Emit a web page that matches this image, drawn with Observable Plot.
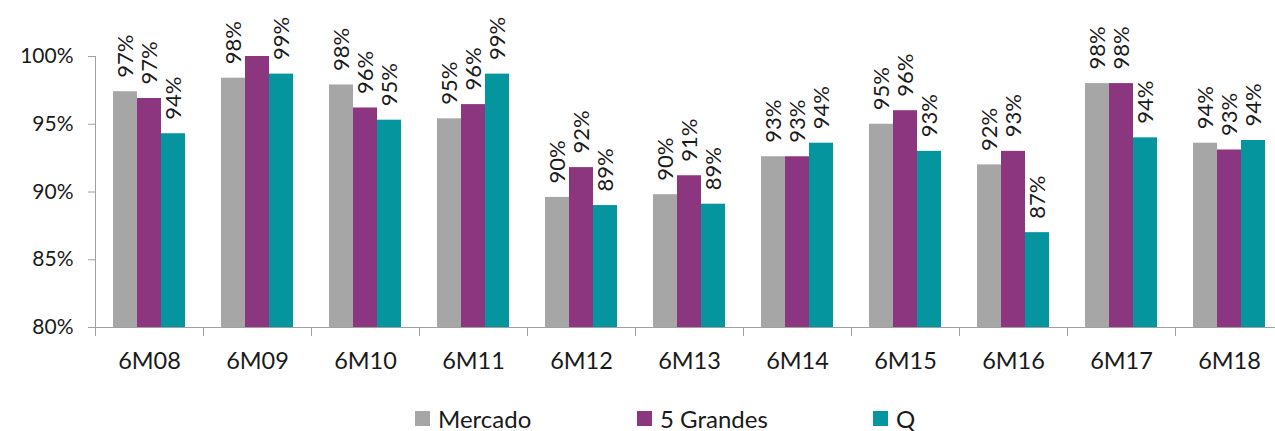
<!DOCTYPE html>
<html>
<head>
<meta charset="utf-8">
<script src="https://cdn.jsdelivr.net/npm/d3@7"></script>
<script src="https://cdn.jsdelivr.net/npm/@observablehq/plot@0.6"></script>
<style>
  html, body { margin: 0; padding: 0; background: #fff; overflow: hidden; }
  body { position: relative; width: 1275px; height: 431px; font-family: Lato, "Open Sans", sans-serif; }
  #chart svg { overflow: hidden; }
  #legend { position: absolute; left: 0; top: 406px; width: 1275px; height: 25px; font-size: 24px; line-height: 25px; color: #1a1a1a; }
  .item { display: flex; align-items: center; position: absolute; top: 0; height: 25px; white-space: nowrap; }
  .sw { width: 15px; height: 15px; margin-right: 8px; }
</style>
</head>
<body>
<div id="chart"></div>
<div id="legend"></div>
<script>
const categories = ["6M08","6M09","6M10","6M11","6M12","6M13","6M14","6M15","6M16","6M17","6M18"];
const seriesNames = ["Mercado", "5 Grandes", "Q"];
const seriesColors = ["#A6A6A6", "#8B367F", "#05959E"];
const mercado   = [97.4, 98.4, 97.9, 95.4, 89.6, 89.8, 92.6, 95.0, 92.0, 98.0, 93.6];
const grandes5  = [96.9, 100.0, 96.2, 96.45, 91.8, 91.2, 92.6, 96.0, 93.0, 98.0, 93.1];
const q         = [94.3, 98.7, 95.3, 98.7, 89.0, 89.1, 93.6, 93.0, 87.0, 94.0, 93.8];
const yTicks = [80, 85, 90, 95, 100];
const baseline = 80;
const legendLefts = [415, 637, 873];

const seriesValues = [mercado, grandes5, q];
const data = [];
categories.forEach((c, i) => {
  seriesNames.forEach((s, j) => data.push({cat: c, series: s, value: seriesValues[j][i]}));
});

const W = 1275, H = 403, mT = 56, mB = 76;
const axisColor = "#A0A0A0";

const chart = Plot.plot({
  width: W,
  height: H,
  marginLeft: 91,
  marginRight: -12,
  marginTop: mT,
  marginBottom: mB,
  style: {fontFamily: "Lato, 'Open Sans', sans-serif", fontSize: "21px", color: "#1a1a1a", background: "#fff"},
  fx: {domain: categories, paddingInner: 0, paddingOuter: 0, label: null},
  x: {domain: seriesNames, paddingInner: 0, paddingOuter: 0.725, axis: null},
  y: {domain: [baseline, 100], label: null},
  color: {domain: seriesNames, range: seriesColors},
  marks: [
    Plot.barY(data, {fx: "cat", x: "series", y1: baseline, y2: "value", fill: "series"}),
    Plot.text(data.filter(d => d.value < 100), {
      fx: "cat", x: "series", y: "value",
      text: d => Math.round(d.value) + "%",
      rotate: -90, textAnchor: "start", lineAnchor: "middle",
      dy: -14, fontSize: 22, fill: "#1a1a1a"
    }),
    Plot.ruleY([baseline], {stroke: axisColor, strokeWidth: 1}),
    Plot.frame({anchor: "left", stroke: axisColor, facetAnchor: "left"}),
    Plot.frame({anchor: "left", stroke: axisColor, insetTop: H - mT - mB, insetBottom: -8}),
    Plot.axisY({ticks: yTicks, tickFormat: d => d + "%", tickSize: 7, tickPadding: 15, stroke: axisColor, fill: "#1a1a1a", fontSize: 21, label: null}),
    Plot.axisFx({anchor: "bottom", tickSize: 0, tickPadding: 25, fontSize: 23.5, fill: "#1a1a1a", label: null})
  ]
});
document.getElementById("chart").appendChild(chart);

const legend = document.getElementById("legend");
seriesNames.forEach((s, i) => {
  const it = document.createElement("div");
  it.className = "item";
  it.style.left = legendLefts[i] + "px";
  const sw = document.createElement("span");
  sw.className = "sw";
  sw.style.background = seriesColors[i];
  const t = document.createElement("span");
  t.textContent = s;
  it.appendChild(sw); it.appendChild(t);
  legend.appendChild(it);
});
</script>
</body>
</html>
